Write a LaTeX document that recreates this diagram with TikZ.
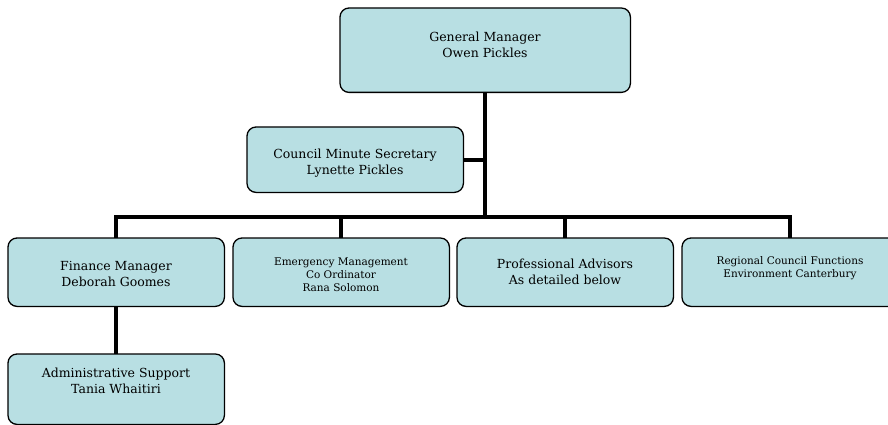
\documentclass[tikz,border=0pt]{standalone}
\usepackage{fontspec}
\setmainfont{DejaVu Serif}
\definecolor{boxfill}{HTML}{B8DFE3}
\begin{document}
\begin{tikzpicture}[x=1pt,y=-1pt,
  slot/.style={anchor=north west, inner sep=0pt, minimum width=216pt, minimum height=68pt},
  boxline/.style={draw=black, line width=1.3pt, rounded corners=9pt, fill=boxfill},
  conn/.style={draw=black, line width=4.3pt, line join=miter},
  lbl/.style={align=center, inner sep=0pt, font=\fontsize{12.5}{15.5}\selectfont},
  lblsmall/.style={align=center, inner sep=0pt, font=\fontsize{10.5}{13}\selectfont}]
  \clip (0,0) rectangle (888,425);
  \fill[white] (0,0) rectangle (888,425);

  % box placements
  \path
    (340,8)   node[slot, minimum width=290pt, minimum height=84pt] (gm)  {}
    (247,127) node[slot, minimum height=65pt] (sec) {}
    (8,238)   node[slot] (fin) {}
    (233,238) node[slot] (emg) {}
    (457,238) node[slot] (pro) {}
    (682,238) node[slot] (reg) {}
    (8,354)   node[slot, minimum height=70pt] (adm) {};

  \coordinate (bus) at (0,217);

  % connectors
  \draw[conn] (fin.north) |- (reg.north |- bus) -- (reg.north);
  \draw[conn] (gm.south) -- (gm.south |- bus);
  \draw[conn] (emg.north) -- (emg.north |- bus);
  \draw[conn] (pro.north) -- (pro.north |- bus);
  \draw[conn] (sec.east) -- (sec.east -| gm.south);
  \draw[conn] (fin.south) -- (adm.north);

  % boxes drawn over the connector ends
  \foreach \n in {gm,sec,fin,emg,pro,reg,adm}{
    \path[boxline] (\n.north west) rectangle (\n.south east);
  }

  % texts
  \node[lbl] (tgm)  at (485,45)  {General Manager\\Owen Pickles};
  \node[lbl] (tsec) at (355,163) {Council Minute Secretary\\Lynette Pickles};
  \node[lbl] (tfin) at (116,274) {Finance Manager\\Deborah Goomes};
  \node[lblsmall] (temg) at (341,275) {Emergency Management\\Co Ordinator\\Rana Solomon};
  \node[lbl] (tpro) at (565,272) {Professional Advisors\\As detailed below};
  \node[lblsmall] (treg) at (790,268) {Regional Council Functions\\Environment Canterbury};
  \node[lbl] (tadm) at (116,381) {Administrative Support\\Tania Whaitiri};
\end{tikzpicture}
\end{document}
